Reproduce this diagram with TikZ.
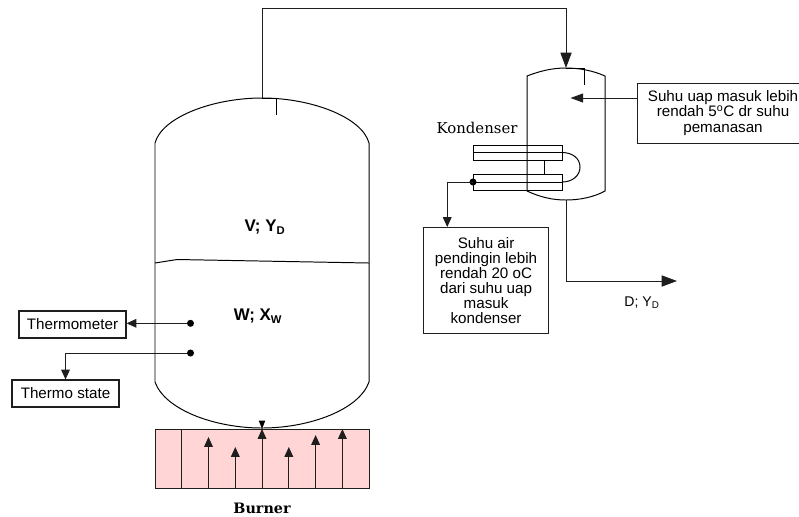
\documentclass[tikz,border=0pt]{standalone}
\usepackage{fontspec}
\setmainfont{Liberation Sans}
\newfontfamily\labelserif{DejaVu Serif}
\usetikzlibrary{arrows.meta,calc,positioning}
\definecolor{burnerpink}{RGB}{255,213,213}
\definecolor{pipegrey}{RGB}{30,30,30}
\tikzset{
 infobox/.style={draw=pipegrey,line width=.8pt,align=center,font=\fontsize{10.8}{10.8}\selectfont,inner sep=0pt},
 pipe/.style={draw=pipegrey,line width=.7pt},
 dotmark/.style={circle,fill=black,inner sep=0pt,minimum size=5pt},
 vessel/.style={draw=black,line width=.7pt},
 blocktip/.style={-{Stealth[length=7pt,width=6.2pt,inset=0pt]}},
 midtip/.style={-{Stealth[length=9pt,width=6.4pt,inset=0pt]}},
 bigtip/.style={-{Stealth[length=11pt,width=8pt,inset=0pt]}},
}
\begin{document}
\begin{tikzpicture}[x=.025cm,y=-.025cm,line cap=butt]
\useasboundingbox (0,0) rectangle (799,516);
% reboiler
\draw[vessel] (155,143) .. controls (162,117) and (213,98) .. (262,98)
 .. controls (311,98) and (362,117) .. (369,143)
 --(369,382) .. controls (359,410) and (309,428) .. (262,428)
 .. controls (215,428) and (165,410) .. (155,382) --cycle;
\draw[vessel] (155,263)--(177,259.5)--(369,263);
\draw[vessel] (262,98)--(276,98)--(276,115);
\coordinate (stilltop) at (262,98);
\node[font=\fontsize{12}{12}\selectfont\bfseries] (vapour) at (265,227) {V; Y\textsubscript{D}};
\node[font=\fontsize{12}{12}\selectfont\bfseries] (liquid) at (258,316) {W; X\textsubscript{W}};
% burner
\fill[burnerpink] (155,429) rectangle (369,488);
\draw[pipe] (155,429) rectangle (369,488);
\draw[pipe] (181.8,429)--(181.8,488);
\foreach \xx/\yy in {208.5/437,235.3/447,262/429,288.8/447,315.6/435,342.4/429}
 \draw[pipe,blocktip] (\xx,488)--(\xx,\yy);
\fill[black] (258.7,420.5)--(265.3,420.5)--(262,429)--cycle;
\node[font=\labelserif\fontsize{10.2}{11}\selectfont\bfseries] (burner) at (262,508) {Burner};
% condenser
\draw[vessel] (527,76) .. controls (540,71) and (552,68) .. (566,68)
 .. controls (580,68) and (594,71) .. (605,76)
 --(605,191) .. controls (594,197) and (580,200) .. (566,200)
 .. controls (552,200) and (540,197) .. (527,191) --cycle;
\draw[vessel] (566,68)--(584,68)--(584,85);
\coordinate (condtop) at (566,68);
\coordinate (condbottom) at (566,200);
\coordinate (condinner) at (570.5,98);
\draw[vessel] (473,145) rectangle (562,160);
\draw[vessel] (473,152.5)--(562,152.5);
\draw[vessel] (473,174) rectangle (562,190);
\draw[vessel] (473,182)--(562,182);
\draw[vessel] (544.5,160)--(544.5,174);
\draw[vessel] (562,152.5) .. controls (572,152.5) and (580,158) .. (580,167)
 .. controls (580,176) and (572,182) .. (562,182);
\node[font=\labelserif\fontsize{10.6}{11}\selectfont] (kondenser) at (477,128) {Kondenser};
% probes and boxes
\node[infobox,minimum width=107pt*.7113,minimum height=27pt*.7113] (thermometer) at (72.5,324.5) {Thermometer};
\node[infobox,minimum width=107pt*.7113,minimum height=27pt*.7113] (thermostate) at (65.5,393.5) {Thermo state};
\node[dotmark] (probeA) at (190.5,323.3) {};
\node[dotmark] (probeB) at (190.5,353) {};
\node[dotmark] (coolout) at (473,182) {};
\node[infobox,anchor=north west,minimum width=125pt*.7113,minimum height=106pt*.7113] (coolbox) at (423,227)
 {Suhu air\\pendingin lebih\\rendah 20 oC\\dari suhu uap\\masuk\\kondenser};
\node[draw=pipegrey,line width=.8pt,anchor=north west,minimum width=166pt*.7113,minimum height=60pt*.7113,inner sep=0pt] (vapbox) at (637,83) {};
\node[align=center,font=\fontsize{10.8}{10.8}\selectfont,inner sep=0pt] (vaptext) at (723,113)
 {Suhu uap masuk lebih\\rendah 5\textsuperscript{o}C dr suhu\\pemanasan};
\coordinate (distend) at (677,281);
\node[font=\fontsize{10}{12}\selectfont] (product) at (642,302.5) {D; Y\textsubscript{D}};
% connectors
\draw[pipe,bigtip] (stilltop)--(262,8.5)-|(condtop);
\draw[pipe,bigtip] (condbottom)|-(distend);
\draw[pipe,midtip] (vapbox.west|-condinner)--(condinner);
\draw[pipe,blocktip] (coolout.center)-|($(coolbox.north west)!.192!(coolbox.north east)$);
\draw[pipe,blocktip] (probeA)--(thermometer.east|-probeA);
\draw[pipe,blocktip] (probeB)-|(thermostate.north);
\end{tikzpicture}
\end{document}
